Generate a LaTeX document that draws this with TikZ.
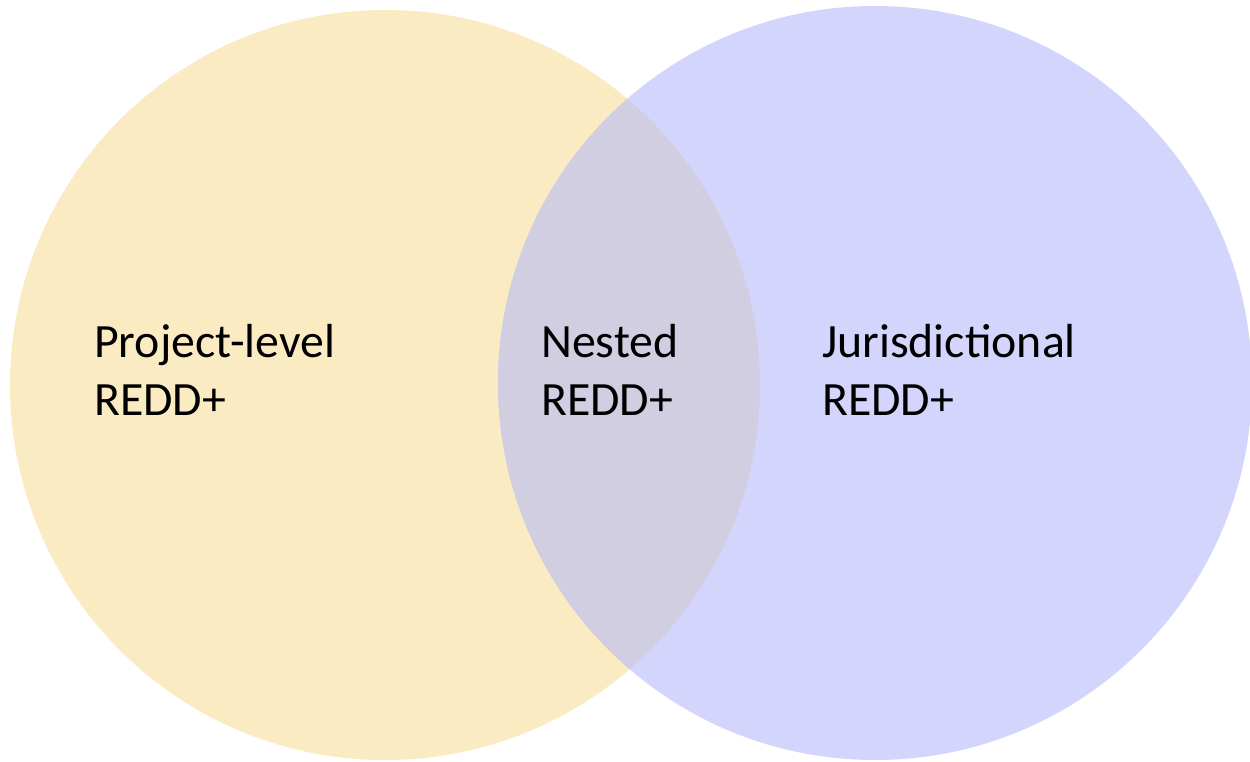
\documentclass[tikz,border=0pt]{standalone}
\usepackage{fontspec}
\setmainfont{Carlito}
\definecolor{projfill}{HTML}{FBEBC3}
\definecolor{jurfill}{HTML}{D3D5FC}
\definecolor{nestfill}{HTML}{D0CEE0}
\tikzset{
  label text/.style={inner sep=0pt, anchor=base west, align=left, text=black,
    font=\fontsize{47.8}{58}\selectfont}
}
\begin{document}
\begin{tikzpicture}[x=1pt,y=1pt]
\useasboundingbox (0,0) rectangle (1250,761);
\fill[white] (0,0) rectangle (1250,761);
\begin{scope}
\clip (0,0) rectangle (1250,761);
\fill[projfill] (385,376) circle (375);
\fill[jurfill] (875,378) circle (377);
\begin{scope}
\clip (385,376) circle (375);
\fill[nestfill] (875,378) circle (377);
\end{scope}
\end{scope}
\node[label text] (proj) at (94,345) {Project-level\\REDD+};
\node[label text] (nest) at (541,345) {Nested\\REDD+};
\node[label text] (jur) at (822,345) {Jurisdictional\\REDD+};
\end{tikzpicture}
\end{document}
